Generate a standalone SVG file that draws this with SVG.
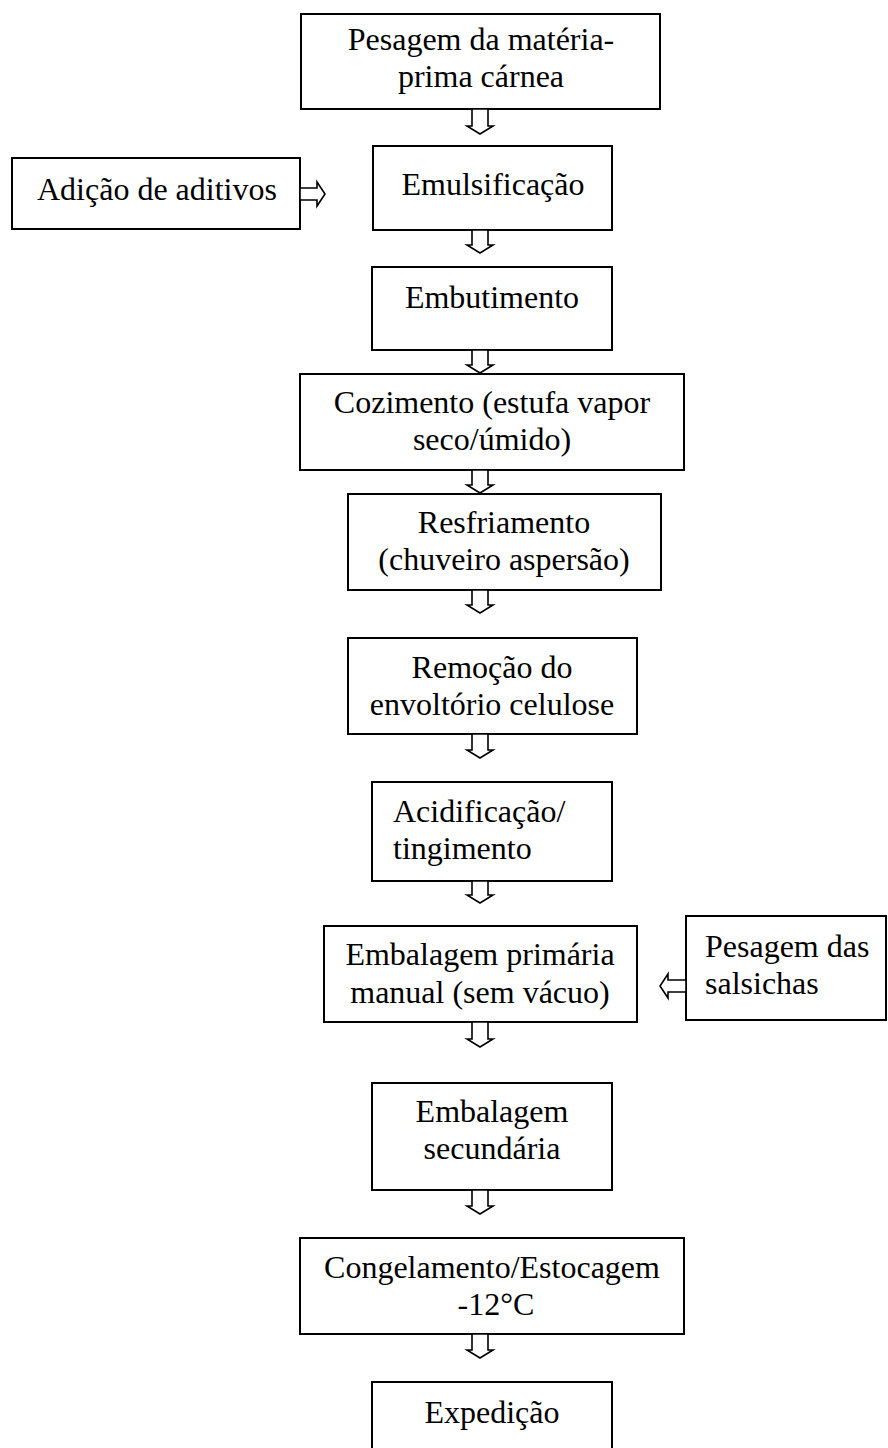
<svg xmlns="http://www.w3.org/2000/svg" width="888" height="1448" viewBox="0 0 888 1448">
<style>
.b{fill:#fff;stroke:#000;stroke-width:2}
.t{font-family:"Liberation Serif","Times New Roman",serif;font-size:32px;fill:#000}
.c{text-anchor:middle}
.a{fill:#fff;stroke:#000;stroke-width:1.6;stroke-linejoin:miter}
</style>
<rect width="888" height="1448" fill="#fff"/>
<g id="n1"><rect class="b" x="301" y="14" width="359" height="95"/><text class="t c" x="481" y="50">Pesagem da matéria-</text><text class="t c" x="481" y="87">prima cárnea</text></g>
<g id="n2"><rect class="b" x="373" y="146" width="239" height="84"/><text class="t c" x="493" y="195">Emulsificação</text></g>
<g id="n2a"><rect class="b" x="12" y="158" width="288" height="71"/><text class="t" x="37" y="200">Adição de aditivos</text></g>
<g id="n3"><rect class="b" x="372" y="267" width="240" height="83"/><text class="t c" x="492" y="308">Embutimento</text></g>
<g id="n4"><rect class="b" x="300" y="374" width="384" height="96"/><text class="t c" x="492" y="413">Cozimento (estufa vapor</text><text class="t c" x="492" y="450">seco/úmido)</text></g>
<g id="n5"><rect class="b" x="348" y="494" width="313" height="96"/><text class="t c" x="504" y="533">Resfriamento</text><text class="t c" x="504" y="570">(chuveiro aspersão)</text></g>
<g id="n6"><rect class="b" x="348" y="638" width="289" height="96"/><text class="t c" x="492" y="678">Remoção do</text><text class="t c" x="492" y="715">envoltório celulose</text></g>
<g id="n7"><rect class="b" x="372" y="782" width="240" height="99"/><text class="t" x="393" y="822">Acidificação/</text><text class="t" x="393" y="859">tingimento</text></g>
<g id="n8"><rect class="b" x="324" y="926" width="313" height="96"/><text class="t c" x="480" y="965">Embalagem primária</text><text class="t c" x="480" y="1003">manual (sem vácuo)</text></g>
<g id="n8a"><rect class="b" x="686" y="916" width="200" height="104"/><text class="t" x="705" y="957">Pesagem das</text><text class="t" x="705" y="994">salsichas</text></g>
<g id="n9"><rect class="b" x="372" y="1083" width="240" height="107"/><text class="t c" x="492" y="1122">Embalagem</text><text class="t c" x="492" y="1159">secundária</text></g>
<g id="n10"><rect class="b" x="300" y="1238" width="384" height="96"/><text class="t c" x="492" y="1278">Congelamento/Estocagem</text><text class="t c" x="496" y="1315">-12°C</text></g>
<g id="n11"><rect class="b" x="372" y="1382" width="240" height="70"/><text class="t c" x="492" y="1423">Expedição</text></g>
<g id="connectors">
<path class="a" d="M472,109 H488 V126 H493 L480,134 L467,126 H472 Z"/>
<path class="a" d="M472,230 H488 V245 H493 L480,253 L467,245 H472 Z"/>
<path class="a" d="M472,350 H488 V365 H493 L480,373 L467,365 H472 Z"/>
<path class="a" d="M472,470 H488 V485 H493 L480,493 L467,485 H472 Z"/>
<path class="a" d="M472,590 H488 V605 H493 L480,613 L467,605 H472 Z"/>
<path class="a" d="M472,734 H488 V750 H493 L480,758 L467,750 H472 Z"/>
<path class="a" d="M472,881 H488 V895 H493 L480,903 L467,895 H472 Z"/>
<path class="a" d="M472,1022 H488 V1039 H493 L480,1047 L467,1039 H472 Z"/>
<path class="a" d="M472,1190 H488 V1206 H493 L480,1214 L467,1206 H472 Z"/>
<path class="a" d="M472,1334 H488 V1350 H493 L480,1358 L467,1350 H472 Z"/>
<path class="a" d="M300,188 V200 H317 V206 L325,194 L317,182 V188 Z"/>
<path class="a" d="M686,980 V992 H668 V998 L660,986 L668,974 V980 Z"/>
</g>
</svg>
